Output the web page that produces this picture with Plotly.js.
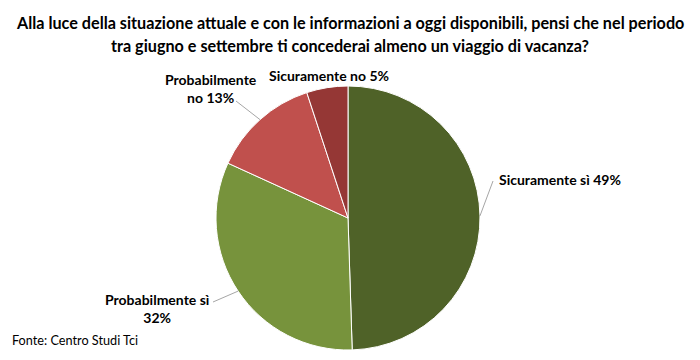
<!DOCTYPE html>
<html><head><meta charset="utf-8">
<script src="https://cdn.plot.ly/plotly-3.0.1.min.js"></script>
<style>html,body{margin:0;padding:0;background:#fff}</style>
</head><body><div id="chart" style="width:700px;height:360px"></div>
<script>
const categories = ["Sicuramente sì", "Probabilmente sì", "Probabilmente no", "Sicuramente no"];
const values = [49, 32, 13, 5];
const labelTexts = ["Sicuramente sì 49%", "Probabilmente sì<br>32%", "Probabilmente<br>no 13%", "Sicuramente no 5%"];
const colors = ["#4F6228", "#77933C", "#C0504D", "#953735"];
const titleLines = ["Alla luce della situazione attuale e con le informazioni a oggi disponibili, pensi che nel periodo",
                    "tra giugno e settembre ti concederai almeno un viaggio di vacanza?"];
const sourceText = "Fonte: Centro Studi Tci";

const W = 700, H = 360;
const px = x => x / W, py = y => 1 - y / H;
const cx = 348, cy = 218, R = 132;
const FONT = "Lato, 'Open Sans', sans-serif";

// label layout (pixel positions of text; leader line tail)
const labelPos = [
  {x: 497, y: 179, xa: "left", tail: [493, 181]},
  {x: 157, y: 308, xa: "center", tail: [213, 302]},
  {x: 211, y: 88, xa: "center", tail: [236, 101]},
  {x: 329, y: 75, xa: "center", tail: null}
];

const total = values.reduce((a, b) => a + b, 0);
let start = 0;
const annotations = [], shapes = [];
values.forEach((v, i) => {
  const ext = v / total * 360;
  const mid = (start + ext / 2) * Math.PI / 180;
  start += ext;
  const ex = cx + R * Math.sin(mid), ey = cy - R * Math.cos(mid);
  const lp = labelPos[i];
  annotations.push({xref: "paper", yref: "paper", x: px(lp.x), y: py(lp.y), xanchor: lp.xa, yanchor: "middle",
    text: "<b>" + labelTexts[i] + "</b>", showarrow: false, align: "center",
    font: {family: FONT, size: 14, color: "#000"}});
  if (lp.tail) {
    shapes.push({type: "line", xref: "paper", yref: "paper", x0: px(ex), y0: py(ey), x1: px(lp.tail[0]), y1: py(lp.tail[1]),
      line: {color: "#A6A6A6", width: 1}});
  }
});
titleLines.forEach((t, i) => {
  annotations.push({xref: "paper", yref: "paper", x: px(350), y: py(22 + i * 23), xanchor: "center", yanchor: "middle",
    text: "<b>" + t + "</b>", showarrow: false, font: {family: FONT, size: 16.2, color: "#000"}});
});
annotations.push({xref: "paper", yref: "paper", x: px(10), y: py(340), xanchor: "left", yanchor: "middle",
  text: sourceText, showarrow: false, font: {family: FONT, size: 12.7, color: "#000"}});

const trace = {
  type: "pie", labels: categories, values: values, sort: false, direction: "clockwise", rotation: 0,
  marker: {colors: colors, line: {color: "#fff", width: 1}},
  textinfo: "none", hoverinfo: "label+percent",
  domain: {x: [px(cx - R), px(cx + R)], y: [py(cy + R), py(cy - R)]}
};
const layout = {
  width: W, height: H, margin: {l: 0, r: 0, t: 0, b: 0}, showlegend: false,
  paper_bgcolor: "#fff", annotations: annotations, shapes: shapes
};
Plotly.newPlot("chart", [trace], layout, {displayModeBar: false, staticPlot: true});
</script></body></html>
